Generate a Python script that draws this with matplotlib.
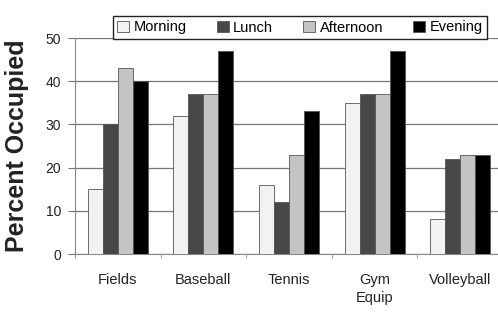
import matplotlib
matplotlib.use("Agg")
import matplotlib.pyplot as plt
import numpy as np

plt.rcParams['font.family'] = ['Liberation Sans', 'DejaVu Sans']

# data
categories = ["Fields", "Baseball", "Tennis", "Gym\nEquip", "Volleyball"]
series_names = ["Morning", "Lunch", "Afternoon", "Evening"]
morning = [15, 32, 16, 35, 8]
lunch = [30, 37, 12, 37, 22]
afternoon = [43, 37, 23, 37, 23]
evening = [40, 47, 33, 47, 23]
y_ticks = [0, 10, 20, 30, 40, 50]

series = [morning, lunch, afternoon, evening]
colors = ["#f2f2f2", "#474747", "#c4c4c4", "#000000"]

fig = plt.figure(figsize=(4.98, 3.12), dpi=100)
ax = fig.add_axes([75 / 498, 58 / 312, 428 / 498, 216 / 312])

x = np.arange(len(categories))
w = 0.175
for i, (vals, c) in enumerate(zip(series, colors)):
    ax.bar(x + (i - 1.5) * w, vals, width=w, color=c, edgecolor="#555555",
           linewidth=0.6, label=series_names[i], zorder=3)

ax.set_xlim(-0.5, len(categories) - 0.5)
ax.set_ylim(0, 50)
ax.set_yticks(y_ticks)
ax.yaxis.grid(True, color="#777777", linewidth=0.9, zorder=0)
ax.set_axisbelow(True)

ax.set_xticks(x)
ax.set_xticklabels(categories, fontsize=10.5, color="#222222", linespacing=1.3)
ax.tick_params(axis="x", length=0, pad=14)
ax.set_xticks(np.arange(len(categories) + 1) - 0.5, minor=True)
ax.tick_params(axis="x", which="minor", length=3, color="#888888")
ax.tick_params(axis="y", labelsize=10, length=5, color="#777777", labelcolor="#222222", pad=5)

for s in ["top", "right"]:
    ax.spines[s].set_visible(False)
ax.spines["left"].set_color("#888888")
ax.spines["bottom"].set_color("#888888")

ax.set_ylabel("Percent Occupied", fontsize=18, fontweight="bold", color="#222222")
ax.yaxis.set_label_coords(-0.108, 0.5)

leg = fig.legend(loc="center", bbox_to_anchor=(113 / 498, 1 - 43 / 312, 374 / 498, 31 / 312),
                 mode="expand", ncol=4,
                 fontsize=10.5, frameon=True, fancybox=False, edgecolor="#222222",
                 handlelength=0.8, handleheight=0.8, handletextpad=0.3,
                 borderpad=0.3, borderaxespad=0, framealpha=1)
leg.get_frame().set_linewidth(1.0)

fig.savefig("out.png", dpi=100)
